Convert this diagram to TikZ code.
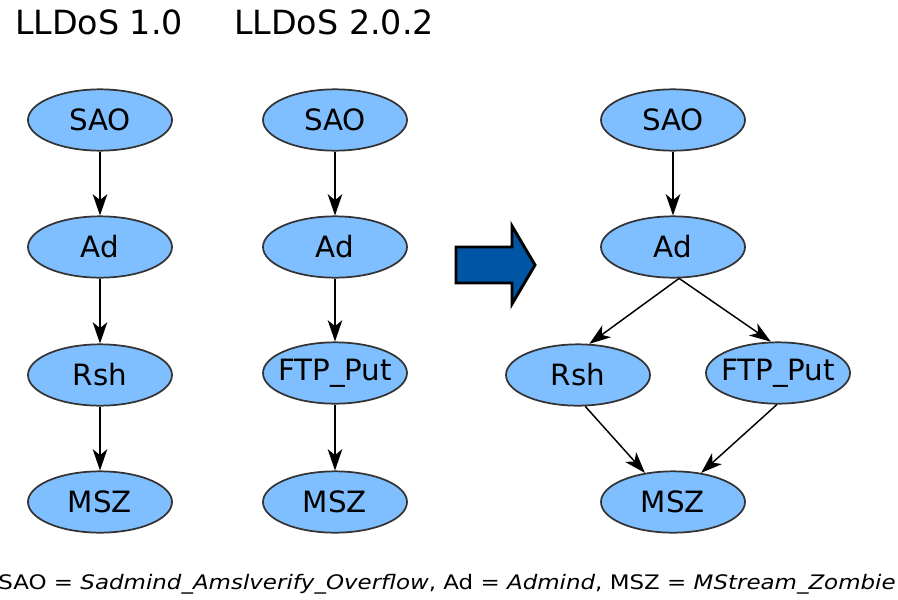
\documentclass[tikz,border=0pt]{standalone}
\usepackage{fontspec}
\usepackage{graphicx}
\setmainfont{DejaVu Sans}
\usetikzlibrary{shapes.geometric,arrows.meta}
\definecolor{nodeblue}{HTML}{80BFFF}
\definecolor{bigarrow}{HTML}{0055A4}
\definecolor{rim}{HTML}{333333}

\begin{document}
\begin{tikzpicture}[x=0.75pt,y=-0.75pt,
    ev/.style={ellipse, draw=rim, fill=nodeblue, line width=1.3pt,
      minimum width=108pt, minimum height=46pt, inner ysep=0pt, inner xsep=-6pt,
      font=\fontsize{22}{26}\selectfont},
    edge/.style={line width=1.1pt, -{Stealth[length=16pt,width=11pt,inset=4.5pt]}}]
    \useasboundingbox (0,0) rectangle (898,599);

    % titles
    \node (t1) at (99,22) {\fontsize{25}{29}\selectfont LLDoS 1.0};
    \node (t2) at (334,22) {\fontsize{25}{29}\selectfont LLDoS 2.0.2};

    % LLDoS 1.0
    \node[ev] (sao1) at (100,120) {SAO};
    \node[ev] (ad1) at (100,247) {Ad};
    \node[ev] (rsh1) at (100,375) {Rsh};
    \node[ev] (msz1) at (100,502) {MSZ};
    \draw[edge] (sao1) -- (ad1);
    \draw[edge] (ad1) -- (rsh1);
    \draw[edge] (rsh1) -- (msz1);

    % LLDoS 2.0.2
    \node[ev] (sao2) at (335,120) {SAO};
    \node[ev] (ad2) at (335,247) {Ad};
    \node[ev] (ftp2) at (335,373) {FTP\_Put};
    \node[ev] (msz2) at (335,502) {MSZ};
    \draw[edge] (sao2) -- (ad2);
    \draw[edge] (ad2) -- (ftp2);
    \draw[edge] (ftp2) -- (msz2);

    % big arrow
    \draw[fill=bigarrow, line width=2.2pt, line join=miter]
      (456,247) -- (512,247) -- (512,226) -- (535,265) -- (512,304)
      -- (512,283) -- (456,283) -- cycle;

    % merged
    \node[ev] (sao3) at (673,120) {SAO};
    \node[ev] (ad3) at (673,247) {Ad};
    \node[ev] (rsh3) at (578,375) {Rsh};
    \node[ev] (ftp3) at (778,373) {FTP\_Put};
    \node[ev] (msz3) at (673,502) {MSZ};
    \draw[edge] (sao3) -- (ad3);
    \draw[edge] (ad3.-79) -- (rsh3.70);
    \draw[edge] (ad3.-79) -- (ftp3.103);
    \draw[edge] (rsh3.-77) -- (msz3.134);
    \draw[edge] (ftp3.-92) -- (msz3.46);

    % legend
    \node (legend) at (447,584) {\resizebox{673pt}{\height}{\fontsize{15}{18}\selectfont SAO = \textit{Sadmind\_Amslverify\_Overflow}, Ad = \textit{Admind}, MSZ = \textit{MStream\_Zombie}}};
\end{tikzpicture}
\end{document}
